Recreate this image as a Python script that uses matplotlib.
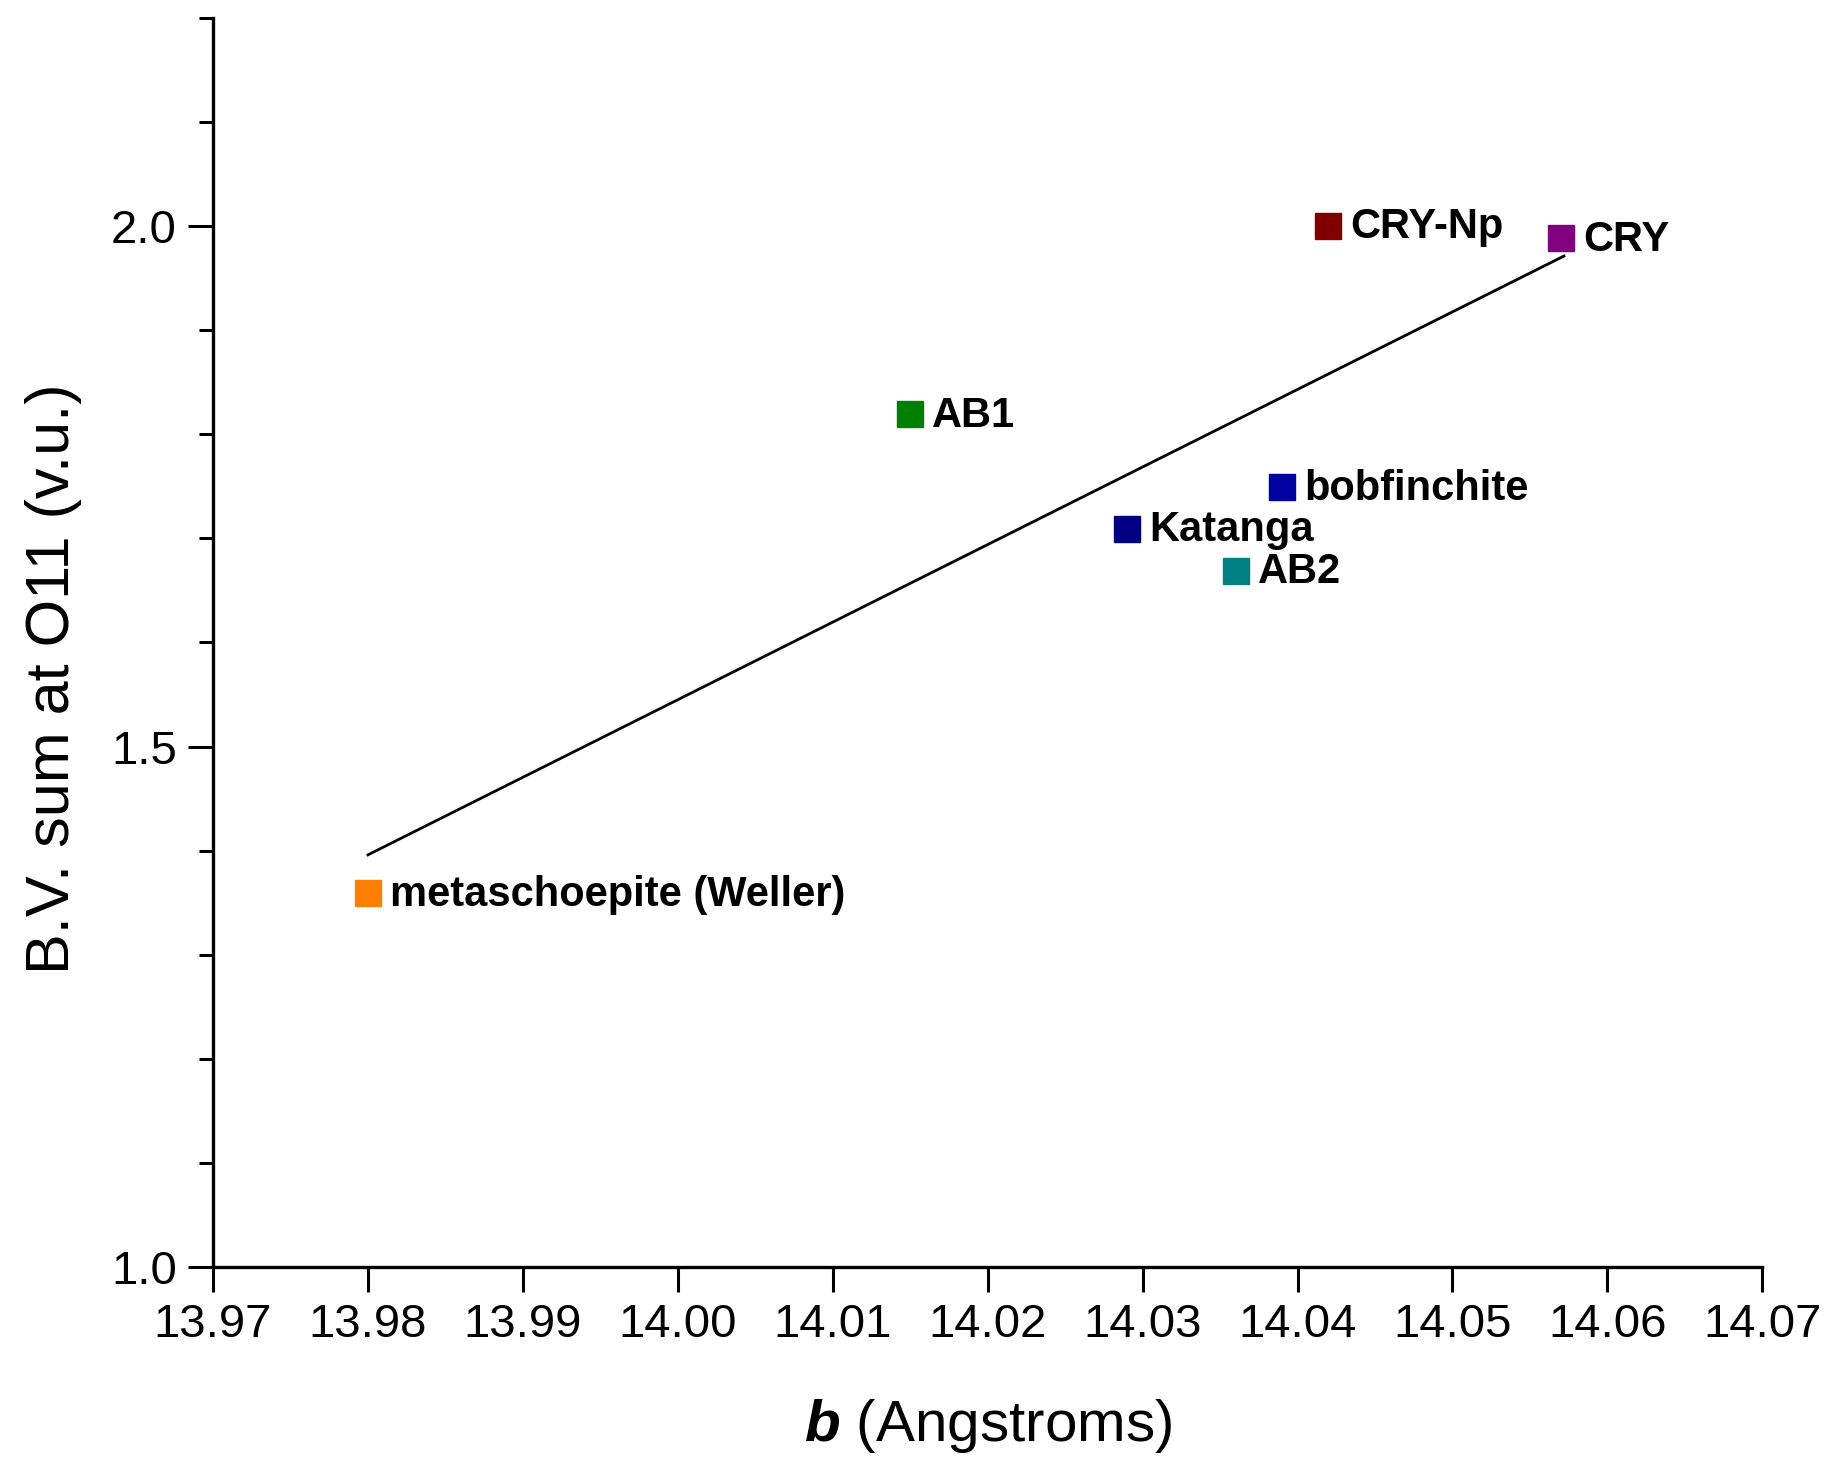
import matplotlib
matplotlib.use('Agg')
from matplotlib import pyplot as plt
from matplotlib.ticker import MultipleLocator

# Samples: b axis length and bond valence sum at O11
names = ['metaschoepite (Weller)', 'AB1', 'Katanga', 'AB2', 'bobfinchite', 'CRY-Np', 'CRY']
b_vals = [13.980, 14.015, 14.029, 14.036, 14.039, 14.042, 14.057]
bvs_vals = [1.359, 1.819, 1.709, 1.669, 1.749, 2.000, 1.988]
colors = ['#FF8000', '#008000', '#000080', '#008080', '#0000A0', '#800000', '#800080']

# Fitted trend line
fit_x = [13.980, 14.0572]
fit_y = [1.396, 1.971]

x_ticks = [13.97, 13.98, 13.99, 14.00, 14.01, 14.02, 14.03, 14.04, 14.05, 14.06, 14.07]

plt.rcParams['font.family'] = ['Liberation Sans', 'DejaVu Sans']
plt.rcParams['mathtext.fontset'] = 'custom'
plt.rcParams['mathtext.bfit'] = 'Liberation Sans:italic:bold'
plt.rcParams['mathtext.rm'] = 'Liberation Sans'

fig = plt.figure(figsize=(18.3, 14.6), dpi=100)
ax = fig.add_axes([0.1164, 0.132, 0.8466, 0.856])

ax.plot(fit_x, fit_y, color='black', lw=2.0)
for name, x, y, c in zip(names, b_vals, bvs_vals, colors):
    ax.plot(x, y, marker='s', ms=18.5, color=c, mec=c, ls='none', clip_on=False)
    ax.annotate(name, (x, y), xytext=(16, -1), textcoords='offset points',
                ha='left', va='center', fontsize=30, fontweight='bold')

# Format axes.
ax.set_xlim(13.97, 14.07)
ax.set_ylim(1.0, 2.2)
ax.set_xticks(x_ticks)
ax.set_xticklabels(['%.2f' % t for t in x_ticks])
ax.yaxis.set_major_locator(MultipleLocator(0.5))
ax.yaxis.set_minor_locator(MultipleLocator(0.1))
ax.yaxis.set_major_formatter(plt.FormatStrFormatter('%.1f'))

for side in ['top', 'right']:
    ax.spines[side].set_visible(False)
for side in ['left', 'bottom']:
    ax.spines[side].set_linewidth(2.4)

ax.tick_params(axis='both', which='major', direction='out', length=18, width=2.2,
               labelsize=34, pad=8)
ax.tick_params(axis='y', which='minor', direction='out', length=10, width=2.2)

ax.set_ylabel('B.V. sum at O11 (v.u.)', fontsize=44, labelpad=21)
ax.yaxis.label.set_y(0.471)
ax.set_xlabel(r'$\mathbfit{b}$ (Angstroms)', fontsize=42, labelpad=36)

fig.savefig('out.png', dpi=100)
